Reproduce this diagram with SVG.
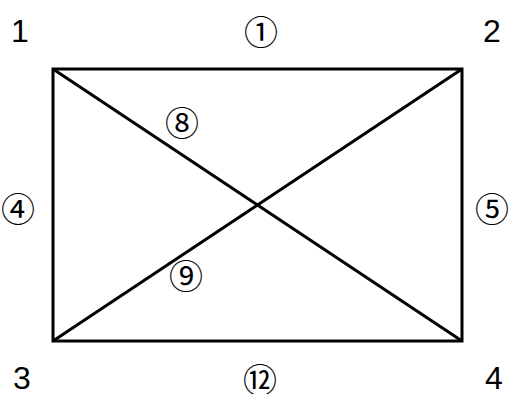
<svg xmlns="http://www.w3.org/2000/svg" width="510" height="394" viewBox="0 0 510 394">
<style>
.d{font-family:"Liberation Sans","Noto Sans",sans-serif;font-size:32px;fill:#000;text-anchor:middle}
.c{font-family:"Noto Sans CJK JP","Noto Sans CJK SC",sans-serif;font-size:34px;fill:#000;text-anchor:middle;dominant-baseline:central}
.l{stroke:#000;stroke-width:3;fill:none}
</style>
<rect width="510" height="394" fill="#fff"/>
<g id="connectors">
<rect class="l" x="53" y="69" width="409" height="272"/>
<line class="l" x1="53" y1="69" x2="462" y2="341"/>
<line class="l" x1="462" y1="69" x2="53" y2="341"/>
</g>
<g id="n1"><text class="d" x="20" y="42">1</text></g>
<g id="n2"><text class="d" x="492" y="42">2</text></g>
<g id="n3"><text class="d" x="22" y="389">3</text></g>
<g id="n4"><text class="d" x="494" y="389">4</text></g>
<g id="e1"><text class="c" x="261" y="30">①</text></g>
<g id="e4"><text class="c" x="18" y="207">④</text></g>
<g id="e5"><text class="c" x="492" y="207">⑤</text></g>
<g id="e8"><text class="c" x="182" y="121">⑧</text></g>
<g id="e9"><text class="c" x="186" y="274">⑨</text></g>
<g id="e12"><text class="c" x="260" y="378">⑫</text></g>
</svg>
